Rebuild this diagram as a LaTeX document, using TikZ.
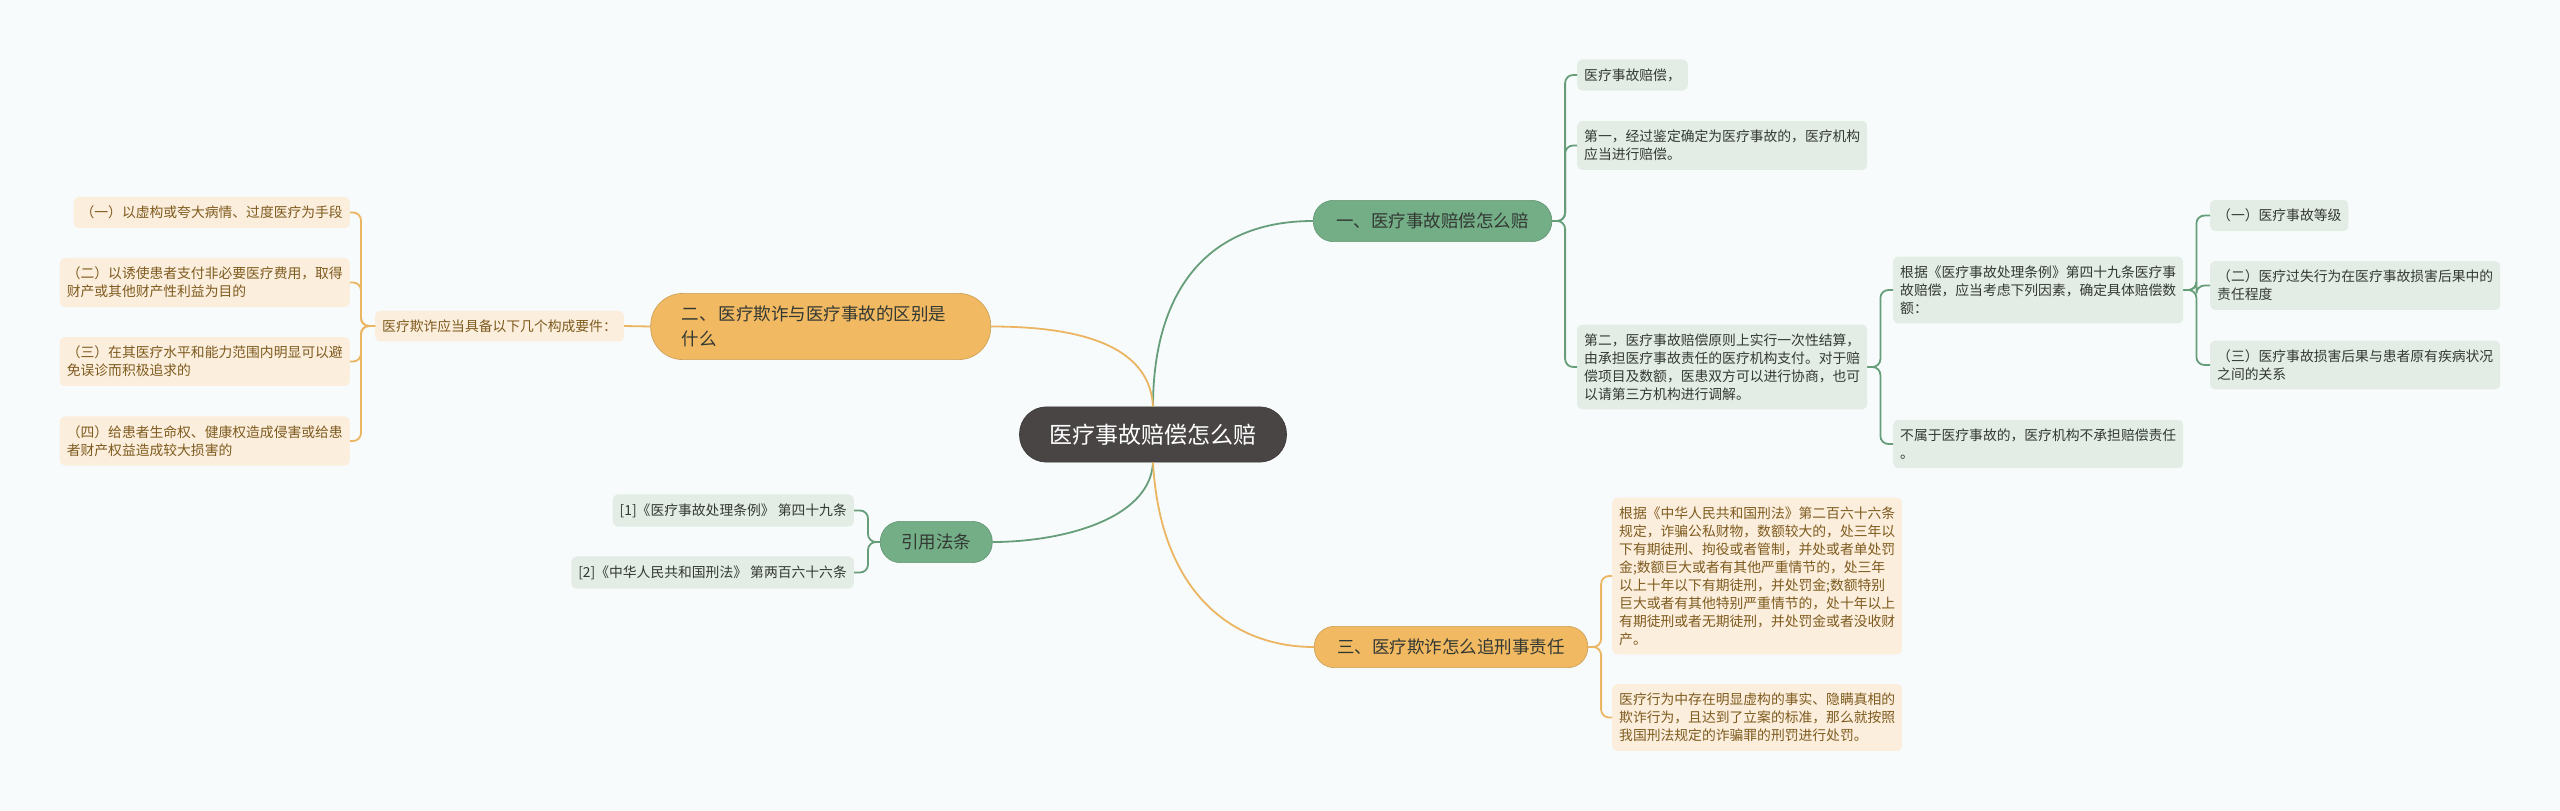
\documentclass[tikz,border=0pt]{standalone}
\usepackage{fontspec}
\setmainfont{Noto Sans CJK SC}
\definecolor{bgcol}{HTML}{F7FBFC}
\definecolor{linegreen}{HTML}{679E7A}
\definecolor{lineorange}{HTML}{EBB562}
\definecolor{brgreen}{HTML}{73AE87}
\definecolor{brorange}{HTML}{F0B962}
\definecolor{leafgreen}{HTML}{E3EDE5}
\definecolor{leaforange}{HTML}{FCEEDC}
\definecolor{textdark}{HTML}{333833}
\definecolor{textbrown}{HTML}{7E5B1F}
\definecolor{rootfill}{HTML}{4A4545}
\tikzset{
  leafG/.style={fill=leafgreen, text=textdark, rounded corners=5pt, inner xsep=7pt, inner ysep=9pt, align=left, font=\fontsize{13.8}{18}\selectfont},
  leafO/.style={leafG, fill=leaforange, text=textbrown},
  branchG/.style={fill=brgreen, draw=brgreen!85!black, line width=0.6pt, text=textdark, rounded corners=20pt, inner xsep=23pt, inner ysep=12.5pt, align=left, font=\fontsize{17.5}{25}\selectfont},
  branchO/.style={branchG, fill=brorange, draw=brorange!85!black},
  rootN/.style={fill=rootfill, draw=rootfill!80!black, line width=0.6pt, text=white, rounded corners=27pt, inner xsep=30pt, inner ysep=17pt, font=\fontsize{23}{28}\selectfont},
  gline/.style={draw=linegreen, line width=1.8pt, rounded corners=8pt},
  oline/.style={draw=lineorange, line width=1.8pt, rounded corners=8pt},
}
\begin{document}
\begin{tikzpicture}[x=1pt,y=-1pt]
\fill[bgcol] (0,0) rectangle (2560,811);
\useasboundingbox (0,0) rectangle (2560,811);

% root
\node[rootN] (root) at (1153,434.5) {医疗事故赔偿怎么赔};

% branches
\node[branchG, anchor=west] (b1) at (1313,221) {一、医疗事故赔偿怎么赔};
\node[branchO, anchor=east, text width=278pt, inner xsep=31pt, rounded corners=32pt] (b2) at (991,326.5) {二、\hspace{2pt}医疗欺诈与医疗事故的区别是\\什么};
\node[branchG, anchor=west, inner xsep=21pt] (b4) at (880,542) {引用法条};
\node[branchO, anchor=west] (b3) at (1314,647) {三、医疗欺诈怎么追刑事责任};

% branch 1 children
\node[leafG, anchor=west] (l1a) at (1577,75) {医疗事故赔偿，};
\node[leafG, anchor=west] (l1b) at (1577,145.5) {第一，经过鉴定确定为医疗事故的，医疗机构\\应当进行赔偿。};
\node[leafG, anchor=west] (l1c) at (1577,367) {第二，医疗事故赔偿原则上实行一次性结算，\\由承担医疗事故责任的医疗机构支付。对于赔\\偿项目及数额，医患双方可以进行协商，也可\\以请第三方机构进行调解。};
\node[leafG, anchor=west] (l2a) at (1893,290) {根据《医疗事故处理条例》第四十九条医疗事\\故赔偿，应当考虑下列因素，确定具体赔偿数\\额：};
\node[leafG, anchor=west] (l2b) at (1893,444) {不属于医疗事故的，医疗机构不承担赔偿责任\\。};
\node[leafG, anchor=west] (l3a) at (2210,215.5) {（一）医疗事故等级};
\node[leafG, anchor=west] (l3b) at (2210,285.5) {（二）医疗过失行为在医疗事故损害后果中的\\责任程度};
\node[leafG, anchor=west] (l3c) at (2210,365) {（三）医疗事故损害后果与患者原有疾病状况\\之间的关系};

% branch 3 children
\node[leafO, anchor=west] (o1) at (1612,576) {根据《中华人民共和国刑法》第二百六十六条\\规定，诈骗公私财物，数额较大的，处三年以\\下有期徒刑、拘役或者管制，并处或者单处罚\\金;数额巨大或者有其他严重情节的，处三年\\以上十年以下有期徒刑，并处罚金;数额特别\\巨大或者有其他特别严重情节的，处十年以上\\有期徒刑或者无期徒刑，并处罚金或者没收财\\产。};
\node[leafO, anchor=west] (o2) at (1612,717.5) {医疗行为中存在明显虚构的事实、隐瞒真相的\\欺诈行为，且达到了立案的标准，那么就按照\\我国刑法规定的诈骗罪的刑罚进行处罚。};

% branch 2 children
\node[leafO, anchor=east] (p) at (624,326) {医疗欺诈应当具备以下几个构成要件：};
\node[leafO, anchor=east] (p1) at (350,212.5) {（一）以虚构或夸大病情、过度医疗为手段};
\node[leafO, anchor=east] (p2) at (350,282.5) {（二）以诱使患者支付非必要医疗费用，取得\\财产或其他财产性利益为目的};
\node[leafO, anchor=east] (p3) at (350,361.5) {（三）在其医疗水平和能力范围内明显可以避\\免误诊而积极追求的};
\node[leafO, anchor=east] (p4) at (350,441) {（四）给患者生命权、健康权造成侵害或给患\\者财产权益造成较大损害的};

% law children
\node[leafG, anchor=east] (r1) at (854,510.5) {[1]《医疗事故处理条例》 第四十九条};
\node[leafG, anchor=east] (r2) at (854,572.5) {[2]《中华人民共和国刑法》 第两百六十六条};

% root connectors
\draw[gline] (root.north) .. controls (1153,300) and (1200,221) .. (b1.west);
\draw[oline] (root.north) .. controls (1150,350) and (1090,326.5) .. (b2.east);
\draw[gline] (root.south) .. controls (1150,520) and (1060,542) .. (b4.east);
\draw[oline] (root.south) .. controls (1160,590) and (1230,647) .. (b3.west);

% brackets
\foreach \c in {l1a,l1b,l1c} \draw[gline] (b1.east) -- ++(13,0) |- (\c.west);
\foreach \c in {l2a,l2b} \draw[gline] (l1c.east) -- ++(13,0) |- (\c.west);
\foreach \c in {l3a,l3b,l3c} \draw[gline] (l2a.east) -- ++(13,0) |- (\c.west);
\foreach \c in {o1,o2} \draw[oline] (b3.east) -- ++(13,0) |- (\c.west);
\draw[oline] (b2.west) -- (p.east);
\foreach \c in {p1,p2,p3,p4} \draw[oline] (p.west) -- ++(-14,0) |- (\c.east);
\foreach \c in {r1,r2} \draw[gline] (b4.west) -- ++(-12,0) |- (\c.east);
\end{tikzpicture}
\end{document}
